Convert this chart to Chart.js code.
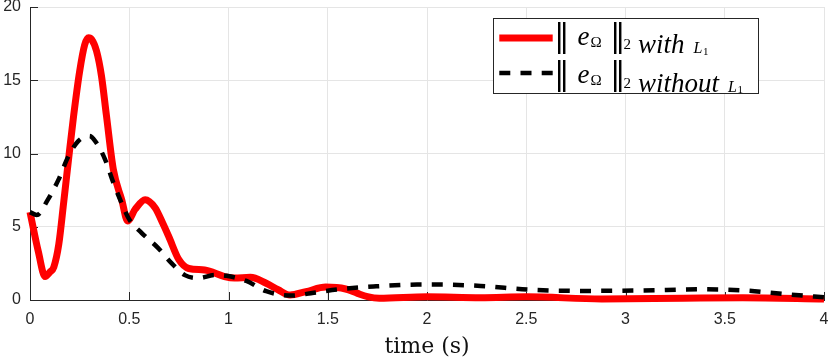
<!DOCTYPE html>
<html><head><meta charset="utf-8">
<script src="https://cdn.jsdelivr.net/npm/chart.js@4"></script>
<style>html,body{margin:0;padding:0;background:#fff;overflow:hidden}</style>
</head><body>
<canvas id="c" width="830" height="362" style="display:block;width:830px;height:362px"></canvas>
<script>
// ---- data ----
const tWith    = [0, 0.042, 0.076, 0.1, 0.12, 0.145, 0.17, 0.195, 0.22, 0.25, 0.275, 0.295, 0.31, 0.335, 0.36, 0.385, 0.42, 0.462, 0.492, 0.53, 0.58, 0.63, 0.67, 0.7, 0.75, 0.8, 0.88, 0.98, 1.03, 1.11, 1.19, 1.25, 1.31, 1.39, 1.49, 1.59, 1.65, 1.7, 1.76, 2.0, 2.27, 2.5, 2.88, 3.29, 3.59, 4.0];
const eWith    = [6.0, 3.3, 1.6, 1.9, 2.25, 3.8, 6.7, 9.7, 12.6, 15.6, 17.4, 17.9, 17.8, 17.0, 15.3, 12.6, 8.9, 6.85, 5.4, 6.2, 6.85, 6.3, 5.2, 4.3, 2.75, 2.15, 2.05, 1.6, 1.5, 1.55, 1.14, 0.7, 0.34, 0.57, 0.88, 0.75, 0.45, 0.23, 0.12, 0.22, 0.16, 0.22, 0.07, 0.12, 0.15, 0.07];
const tWithout = [0, 0.034, 0.09, 0.143, 0.193, 0.243, 0.3, 0.336, 0.378, 0.42, 0.462, 0.5, 0.563, 0.646, 0.714, 0.78, 0.848, 0.93, 0.99, 1.09, 1.19, 1.32, 1.43, 1.56, 1.73, 1.95, 2.07, 2.27, 2.52, 2.78, 3.08, 3.39, 3.59, 3.79, 4.0];
const eWithout = [6.0, 5.8, 6.85, 8.2, 9.8, 10.85, 11.2, 10.7, 9.6, 8.0, 6.6, 5.5, 4.57, 3.54, 2.5, 1.7, 1.5, 1.7, 1.65, 1.3, 0.6, 0.3, 0.5, 0.73, 0.92, 1.05, 1.05, 0.96, 0.7, 0.62, 0.65, 0.73, 0.66, 0.42, 0.18];
const xTicks = [0, 0.5, 1, 1.5, 2, 2.5, 3, 3.5, 4];
const yTicks = [0, 5, 10, 15, 20];
const seriesWords = ['with', 'without'];
const xTitle = 'time (s)';

const AX = '#262626';
const pts = (ts, vs) => ts.map((t, i) => ({x: t, y: vs[i]}));

// inward tick marks (MATLAB style)
const inwardTicks = {
  id: 'inwardTicks',
  beforeDatasetsDraw(chart) {
    const {ctx, chartArea: a, scales: {x, y}} = chart;
    ctx.save();
    ctx.strokeStyle = AX; ctx.lineWidth = 1;
    ctx.beginPath();
    xTicks.forEach(v => { const px = Math.round(x.getPixelForValue(v)) + 0.5; ctx.moveTo(px, a.bottom); ctx.lineTo(px, a.bottom - 8); });
    yTicks.forEach(v => { const py = Math.round(y.getPixelForValue(v)) + 0.5; ctx.moveTo(a.left, py); ctx.lineTo(a.left + 8, py); });
    ctx.stroke();
    ctx.restore();
  }
};

// LaTeX-like legend
const mathLegend = {
  id: 'mathLegend',
  afterDraw(chart) {
    const ctx = chart.ctx;
    const bx = 493.5, by = 18.5, bw = 265, bh = 75;
    ctx.save();
    ctx.fillStyle = '#fff'; ctx.fillRect(bx, by, bw, bh);
    ctx.strokeStyle = AX; ctx.lineWidth = 1; ctx.strokeRect(bx, by, bw, bh);
    const ds = chart.data.datasets;
    const lineY = [38, 73];
    const base = [44.5, 83];
    ds.forEach((d, i) => {
      ctx.save();
      ctx.strokeStyle = d.borderColor; ctx.lineWidth = d.borderWidth;
      ctx.setLineDash(d.borderDash || []);
      ctx.beginPath(); ctx.moveTo(499.3, lineY[i]); ctx.lineTo(552.7, lineY[i]); ctx.stroke();
      ctx.restore();
      const B = base[i];
      ctx.fillStyle = '#000'; ctx.textBaseline = 'alphabetic'; ctx.textAlign = 'left';
      ctx.font = '31px "DejaVu Serif"';
      ctx.fillText('\u2016', 554, B + 1);
      ctx.font = 'italic 27px "Liberation Serif"';
      ctx.fillText('e', 577.5, B);
      ctx.font = '15px "Liberation Serif"';
      ctx.fillText('\u03A9', 590.5, B + 2);
      ctx.font = '31px "DejaVu Serif"';
      ctx.fillText('\u2016', 610, B + 1);
      ctx.font = '15px "Liberation Serif"';
      ctx.fillText('2', 623.5, B + 4.5);
      ctx.font = 'italic 27px "Liberation Serif"';
      const w = seriesWords[i];
      ctx.fillText(w, 638, B + 8.5);
      const wx = 638 + ctx.measureText(w).width + 9;
      ctx.font = 'italic 16px "Liberation Serif"';
      ctx.fillText('L', wx, B + 8.5);
      const lw = ctx.measureText('L').width;
      ctx.font = '11px "Liberation Serif"';
      ctx.fillText('1', wx + lw + 0.5, B + 10);
    });
    ctx.restore();
  }
};

new Chart(document.getElementById('c'), {
  type: 'line',
  data: {
    datasets: [
      {label: seriesWords[0], data: pts(tWith, eWith), borderColor: '#ff0000', borderWidth: 7,
       pointRadius: 0, cubicInterpolationMode: 'monotone', borderJoinStyle: 'round', borderCapStyle: 'butt', order: 2, clip: false},
      {label: seriesWords[1], data: pts(tWithout, eWithout), borderColor: '#000000', borderWidth: 4.5, borderDash: [11, 10.2],
       pointRadius: 0, cubicInterpolationMode: 'monotone', borderJoinStyle: 'round', borderCapStyle: 'butt', order: 1, clip: false}
    ]
  },
  options: {
    responsive: false, animation: false, devicePixelRatio: 1,
    layout: {padding: {top: 7, right: 6, left: 0, bottom: 0}},
    plugins: {legend: {display: false}, tooltip: {enabled: false}},
    scales: {
      x: {
        type: 'linear', min: 0, max: 4,
        afterBuildTicks: s => { s.ticks = xTicks.map(v => ({value: v})); },
        ticks: {autoSkip: false, maxRotation: 0, color: AX, padding: 10, font: {family: '"Liberation Sans"', size: 16}, callback: v => String(v)},
        grid: {color: '#e5e5e5', lineWidth: 1, drawTicks: false},
        border: {display: true, color: AX, width: 1},
        title: {display: true, text: xTitle, color: '#111', font: {family: '"DejaVu Serif"', size: 22}, padding: {top: 0, bottom: 2}},
        afterFit: s => { s.height = 62; s.paddingLeft = 0; s.paddingRight = 0; }
      },
      y: {
        type: 'linear', min: 0, max: 20,
        afterBuildTicks: s => { s.ticks = yTicks.map(v => ({value: v})); },
        ticks: {color: AX, padding: 9, font: {family: '"Liberation Sans"', size: 16}, callback: v => String(v)},
        grid: {color: '#e5e5e5', lineWidth: 1, drawTicks: false},
        border: {display: true, color: AX, width: 1},
        afterFit: s => { s.width = 30; s.paddingTop = 0; s.paddingBottom = 0; }
      }
    }
  },
  plugins: [inwardTicks, mathLegend]
});
</script>
</body></html>
